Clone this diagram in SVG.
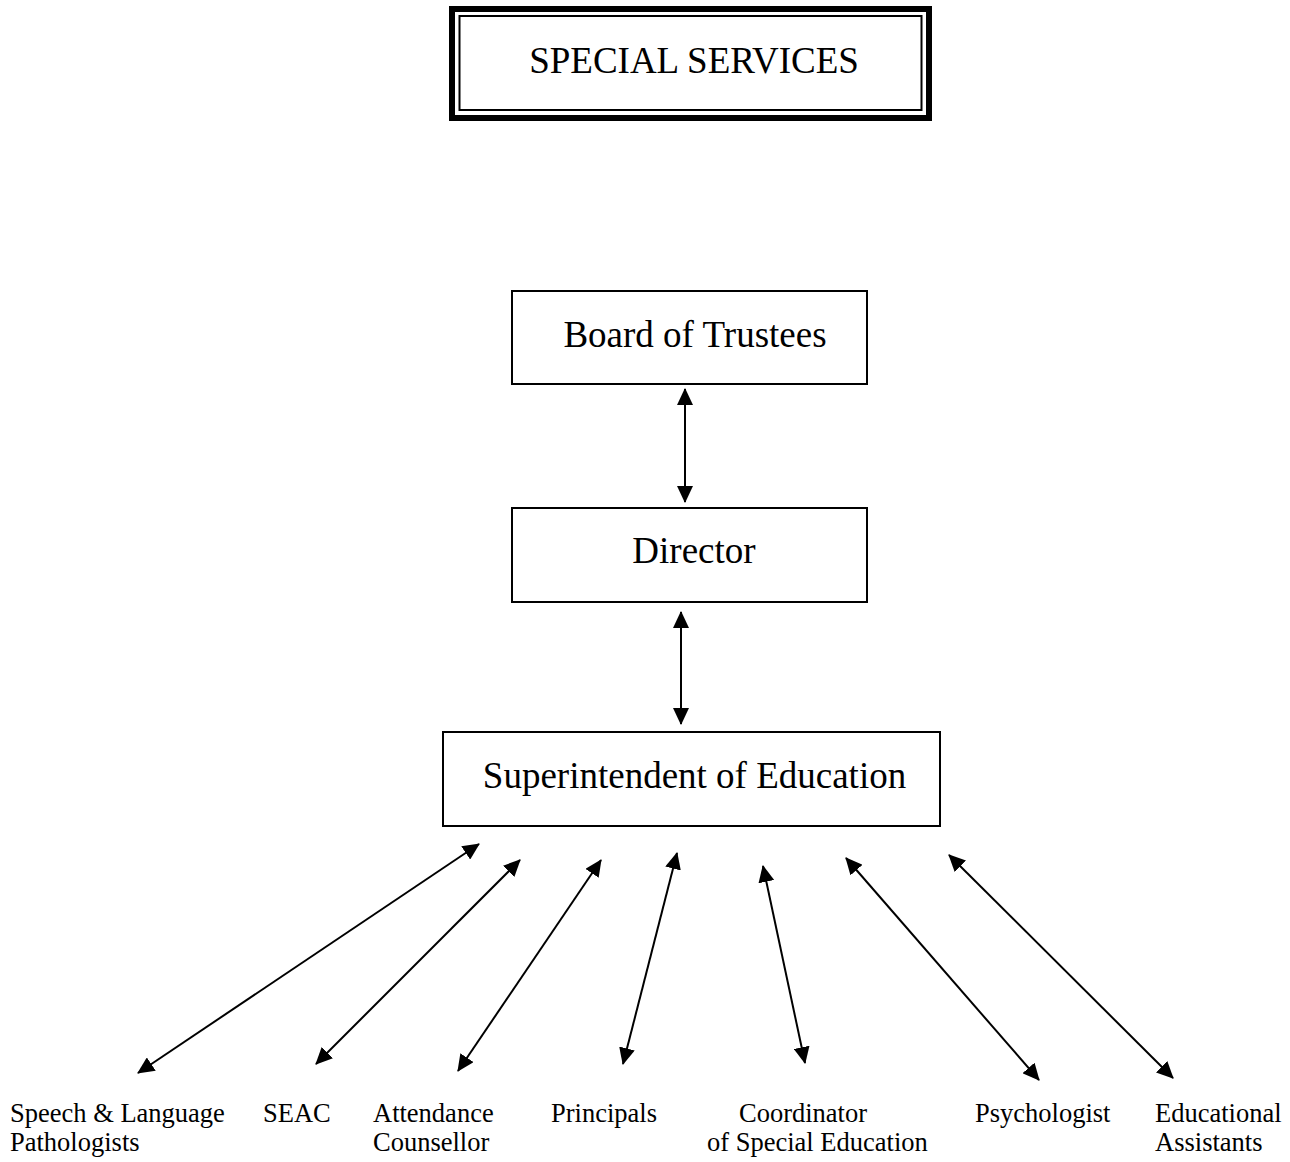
<svg xmlns="http://www.w3.org/2000/svg" width="1290" height="1162" viewBox="0 0 1290 1162">
<style>
.box{fill:#fff;stroke:#000;stroke-width:2}
.big{font-family:"Liberation Serif","Times New Roman",serif;font-size:37px;fill:#000;text-anchor:middle}
.lbl{font-family:"Liberation Serif","Times New Roman",serif;font-size:26.5px;fill:#000}
.con line{stroke:#000;stroke-width:2;marker-start:url(#ah);marker-end:url(#ah)}
</style>
<defs>
<marker id="ah" markerUnits="userSpaceOnUse" markerWidth="17" markerHeight="16" refX="16" refY="8" orient="auto-start-reverse" viewBox="0 0 17 16">
<path d="M0,0 L17,8 L0,16 z" fill="#000"/>
</marker>
</defs>
<rect width="1290" height="1162" fill="#fff"/>
<g id="title">
<rect x="452" y="9" width="477" height="109" fill="#fff" stroke="#000" stroke-width="6"/>
<rect x="459.5" y="16" width="462" height="94" fill="none" stroke="#000" stroke-width="2"/>
<text class="big" x="694" y="73">SPECIAL SERVICES</text>
</g>
<g id="board">
<rect class="box" x="512" y="291" width="355" height="93"/>
<text class="big" x="695" y="347">Board of Trustees</text>
</g>
<g id="director">
<rect class="box" x="512" y="508" width="355" height="94"/>
<text class="big" x="694" y="563">Director</text>
</g>
<g id="superintendent">
<rect class="box" x="443" y="732" width="497" height="94"/>
<text class="big" x="694.5" y="788">Superintendent of Education</text>
</g>
<g class="con" id="connectors">
<line x1="685" y1="389" x2="685" y2="502"/>
<line x1="681" y1="612" x2="681" y2="724"/>
<line x1="479" y1="844" x2="138" y2="1073"/>
<line x1="520" y1="860" x2="316" y2="1064"/>
<line x1="601" y1="860" x2="458" y2="1071"/>
<line x1="677" y1="853" x2="623" y2="1064"/>
<line x1="763" y1="866" x2="805" y2="1063"/>
<line x1="846" y1="858" x2="1039" y2="1080"/>
<line x1="949" y1="855" x2="1173" y2="1078"/>
</g>
<g id="speech"><text class="lbl" x="10" y="1122">Speech &amp; Language</text><text class="lbl" x="10" y="1151">Pathologists</text></g>
<g id="seac"><text class="lbl" x="263" y="1122">SEAC</text></g>
<g id="attendance"><text class="lbl" x="373" y="1122">Attendance</text><text class="lbl" x="373" y="1151">Counsellor</text></g>
<g id="principals"><text class="lbl" x="551" y="1122">Principals</text></g>
<g id="coordinator"><text class="lbl" x="739" y="1122">Coordinator</text><text class="lbl" x="707" y="1151">of Special Education</text></g>
<g id="psychologist"><text class="lbl" x="975" y="1122">Psychologist</text></g>
<g id="assistants"><text class="lbl" x="1155" y="1122">Educational</text><text class="lbl" x="1155" y="1151">Assistants</text></g>
</svg>
